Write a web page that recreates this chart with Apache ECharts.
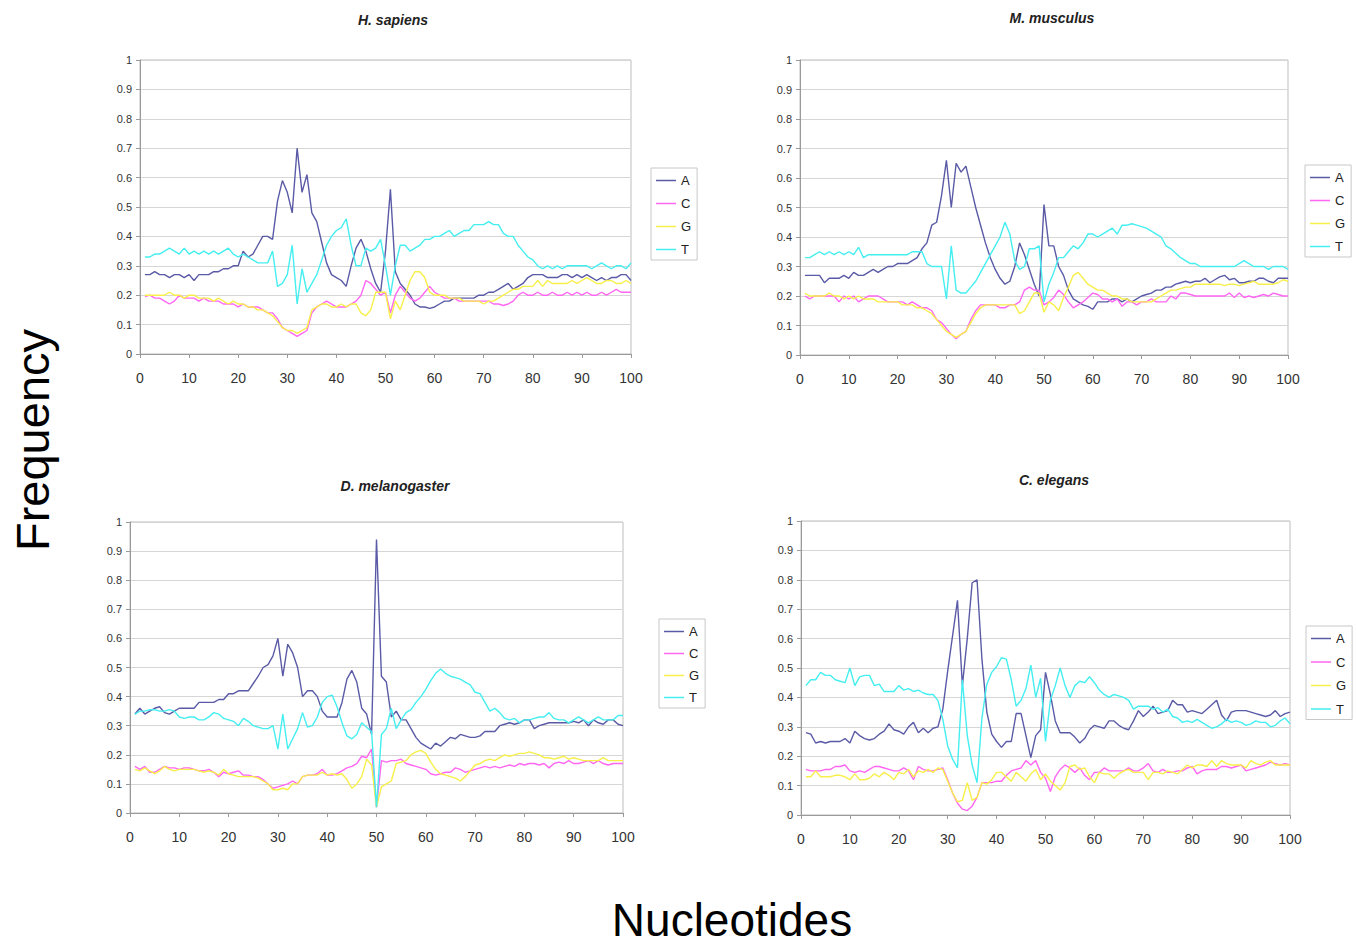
<!DOCTYPE html>
<html>
<head>
<meta charset="utf-8">
<script src="https://cdn.jsdelivr.net/npm/echarts@6/dist/echarts.min.js"></script>
<style>
html,body{margin:0;padding:0;background:#fff;}
#chart{width:1357px;height:947px;}
</style>
</head>
<body>
<div id="chart"></div>
<script>
// ---------- data ----------
const panelTitles = ['H. sapiens', 'M. musculus', 'D. melanogaster', 'C. elegans'];
const bases = ['A', 'C', 'G', 'T'];
const xTicks = [0, 10, 20, 30, 40, 50, 60, 70, 80, 90, 100];
const yTicks = [0, 0.1, 0.2, 0.3, 0.4, 0.5, 0.6, 0.7, 0.8, 0.9, 1];

// H. sapiens
const hsA = [0.27,0.27,0.28,0.27,0.27,0.26,0.27,0.27,0.26,0.27, 0.25,0.27,0.27,0.27,0.28,0.28,0.29,0.29,0.30,0.30,
  0.35,0.33,0.34,0.37,0.40,0.40,0.39,0.52,0.59,0.55, 0.48,0.70,0.55,0.61,0.48,0.45,0.38,0.31,0.27,0.26,
  0.25,0.23,0.30,0.36,0.39,0.35,0.29,0.24,0.21,0.35, 0.56,0.28,0.24,0.22,0.20,0.17,0.16,0.16,0.155,0.16,
  0.17,0.18,0.18,0.19,0.19,0.19,0.19,0.19,0.20,0.20, 0.21,0.21,0.22,0.23,0.24,0.22,0.23,0.24,0.26,0.27,
  0.27,0.27,0.26,0.26,0.26,0.27,0.27,0.26,0.27,0.26, 0.27,0.26,0.25,0.26,0.25,0.26,0.26,0.27,0.27,0.25];
const hsC = [0.195,0.20,0.19,0.19,0.18,0.17,0.18,0.20,0.19,0.19, 0.19,0.18,0.19,0.18,0.18,0.18,0.17,0.17,0.17,0.16,
  0.17,0.16,0.16,0.16,0.15,0.14,0.14,0.12,0.09,0.08, 0.07,0.06,0.07,0.08,0.14,0.16,0.17,0.18,0.17,0.16,
  0.16,0.16,0.17,0.18,0.20,0.25,0.24,0.22,0.20,0.21, 0.14,0.20,0.23,0.21,0.19,0.18,0.19,0.21,0.23,0.21,
  0.20,0.19,0.19,0.19,0.18,0.18,0.18,0.18,0.18,0.18, 0.18,0.17,0.17,0.165,0.17,0.18,0.20,0.21,0.20,0.20,
  0.21,0.20,0.20,0.21,0.20,0.20,0.21,0.20,0.21,0.20, 0.21,0.20,0.20,0.21,0.20,0.21,0.22,0.21,0.21,0.21];
const hsG = [0.20,0.20,0.20,0.20,0.20,0.21,0.20,0.20,0.19,0.20, 0.20,0.19,0.19,0.19,0.18,0.19,0.18,0.17,0.18,0.17,
  0.17,0.16,0.16,0.15,0.15,0.14,0.13,0.11,0.09,0.08, 0.08,0.07,0.08,0.09,0.15,0.16,0.17,0.17,0.16,0.16,
  0.17,0.16,0.17,0.17,0.14,0.13,0.15,0.21,0.21,0.21, 0.12,0.18,0.15,0.20,0.25,0.28,0.28,0.26,0.21,0.20,
  0.20,0.20,0.19,0.19,0.19,0.18,0.18,0.18,0.18,0.17, 0.18,0.18,0.19,0.20,0.21,0.22,0.22,0.23,0.23,0.23,
  0.25,0.23,0.25,0.24,0.24,0.24,0.24,0.25,0.24,0.25, 0.26,0.25,0.24,0.24,0.25,0.25,0.24,0.24,0.25,0.24];
const hsT = [0.33,0.33,0.34,0.34,0.35,0.36,0.35,0.34,0.36,0.34, 0.35,0.34,0.35,0.34,0.35,0.34,0.35,0.36,0.34,0.33,
  0.34,0.33,0.32,0.31,0.31,0.31,0.35,0.23,0.24,0.27, 0.37,0.17,0.29,0.21,0.24,0.27,0.32,0.37,0.40,0.42,
  0.43,0.46,0.37,0.30,0.30,0.36,0.35,0.36,0.39,0.30, 0.20,0.30,0.37,0.37,0.35,0.36,0.37,0.39,0.39,0.40,
  0.40,0.41,0.42,0.40,0.41,0.42,0.42,0.44,0.44,0.44, 0.45,0.44,0.44,0.41,0.40,0.40,0.37,0.35,0.33,0.32,
  0.30,0.29,0.30,0.29,0.30,0.29,0.30,0.30,0.30,0.30, 0.30,0.29,0.30,0.31,0.30,0.29,0.30,0.30,0.29,0.31];

// M. musculus
const mmA = [0.27,0.27,0.27,0.27,0.245,0.26,0.26,0.26,0.27,0.26, 0.28,0.27,0.27,0.28,0.29,0.28,0.29,0.30,0.30,0.31,
  0.31,0.31,0.32,0.33,0.36,0.38,0.44,0.45,0.54,0.66, 0.50,0.65,0.62,0.64,0.57,0.50,0.44,0.38,0.33,0.29,
  0.26,0.24,0.25,0.30,0.38,0.34,0.29,0.24,0.20,0.51, 0.37,0.37,0.30,0.27,0.22,0.19,0.18,0.17,0.165,0.155,
  0.18,0.18,0.18,0.19,0.19,0.18,0.19,0.18,0.19,0.20, 0.205,0.21,0.22,0.22,0.23,0.23,0.24,0.245,0.25,0.245,
  0.25,0.25,0.26,0.245,0.255,0.265,0.27,0.255,0.26,0.245, 0.245,0.25,0.25,0.26,0.26,0.25,0.245,0.26,0.26,0.26];
const mmC = [0.20,0.19,0.20,0.20,0.20,0.20,0.20,0.18,0.20,0.19, 0.20,0.18,0.19,0.20,0.20,0.20,0.19,0.18,0.18,0.18,
  0.18,0.17,0.18,0.17,0.16,0.16,0.15,0.12,0.11,0.09, 0.07,0.055,0.07,0.08,0.12,0.15,0.17,0.17,0.17,0.17,
  0.16,0.16,0.17,0.17,0.18,0.22,0.23,0.22,0.22,0.17, 0.18,0.195,0.22,0.205,0.18,0.16,0.17,0.18,0.195,0.21,
  0.205,0.19,0.19,0.18,0.19,0.165,0.18,0.18,0.17,0.18, 0.18,0.19,0.18,0.18,0.18,0.20,0.19,0.21,0.21,0.205,
  0.20,0.20,0.20,0.20,0.20,0.20,0.20,0.21,0.195,0.21, 0.195,0.20,0.195,0.20,0.205,0.20,0.21,0.205,0.20,0.20];
const mmG = [0.21,0.20,0.20,0.20,0.20,0.21,0.20,0.20,0.19,0.20, 0.19,0.20,0.19,0.19,0.19,0.18,0.18,0.18,0.18,0.18,
  0.17,0.17,0.17,0.16,0.16,0.15,0.14,0.12,0.10,0.08, 0.07,0.06,0.07,0.08,0.11,0.14,0.16,0.17,0.17,0.17,
  0.17,0.17,0.17,0.17,0.14,0.15,0.18,0.21,0.21,0.145, 0.18,0.17,0.15,0.195,0.23,0.27,0.28,0.26,0.24,0.23,
  0.22,0.22,0.21,0.20,0.20,0.19,0.19,0.18,0.18,0.18, 0.18,0.18,0.19,0.20,0.21,0.22,0.22,0.225,0.23,0.23,
  0.24,0.24,0.24,0.24,0.24,0.24,0.235,0.24,0.24,0.235, 0.24,0.245,0.25,0.24,0.24,0.24,0.24,0.245,0.255,0.25];
const mmT = [0.33,0.33,0.34,0.35,0.34,0.35,0.34,0.35,0.34,0.35, 0.34,0.365,0.33,0.34,0.34,0.34,0.34,0.34,0.34,0.34,
  0.34,0.34,0.35,0.35,0.35,0.31,0.30,0.30,0.30,0.19, 0.37,0.22,0.21,0.21,0.23,0.25,0.28,0.31,0.34,0.37,
  0.40,0.45,0.41,0.32,0.29,0.30,0.36,0.36,0.37,0.18, 0.24,0.28,0.33,0.33,0.35,0.37,0.36,0.38,0.41,0.41,
  0.40,0.41,0.42,0.43,0.41,0.44,0.44,0.445,0.44,0.435, 0.43,0.42,0.41,0.40,0.37,0.36,0.345,0.33,0.32,0.31,
  0.31,0.30,0.30,0.30,0.30,0.30,0.30,0.30,0.30,0.31, 0.32,0.31,0.30,0.30,0.30,0.29,0.30,0.30,0.30,0.29];

// D. melanogaster
const dmA = [0.34,0.36,0.34,0.35,0.36,0.365,0.345,0.34,0.35,0.36, 0.36,0.36,0.36,0.38,0.38,0.38,0.38,0.39,0.39,0.41,
  0.41,0.42,0.42,0.42,0.445,0.47,0.50,0.51,0.54,0.60, 0.47,0.58,0.55,0.50,0.40,0.42,0.42,0.40,0.35,0.33,
  0.33,0.33,0.38,0.46,0.49,0.45,0.36,0.34,0.27,0.94, 0.47,0.45,0.33,0.35,0.32,0.32,0.29,0.26,0.24,0.23,
  0.22,0.24,0.23,0.245,0.26,0.255,0.27,0.265,0.26,0.26, 0.265,0.28,0.28,0.28,0.30,0.305,0.31,0.305,0.31,0.32,
  0.32,0.29,0.30,0.305,0.31,0.31,0.31,0.31,0.31,0.315, 0.31,0.32,0.30,0.32,0.31,0.305,0.32,0.32,0.305,0.30];
const dmC = [0.16,0.15,0.16,0.14,0.14,0.15,0.16,0.155,0.155,0.15, 0.155,0.155,0.15,0.145,0.145,0.15,0.14,0.125,0.14,0.135,
  0.14,0.145,0.13,0.13,0.125,0.125,0.115,0.10,0.085,0.09, 0.095,0.10,0.11,0.10,0.125,0.13,0.13,0.135,0.15,0.13,
  0.13,0.135,0.145,0.155,0.16,0.17,0.195,0.19,0.22,0.02, 0.18,0.175,0.18,0.18,0.185,0.17,0.165,0.16,0.155,0.15,
  0.135,0.13,0.135,0.14,0.14,0.155,0.15,0.14,0.145,0.15, 0.155,0.16,0.155,0.16,0.155,0.16,0.165,0.16,0.17,0.165,
  0.17,0.17,0.165,0.17,0.155,0.17,0.175,0.17,0.18,0.17, 0.17,0.175,0.18,0.17,0.18,0.17,0.165,0.17,0.17,0.17];
const dmG = [0.15,0.145,0.155,0.145,0.135,0.145,0.16,0.15,0.145,0.15, 0.15,0.15,0.15,0.145,0.14,0.145,0.14,0.13,0.15,0.135,
  0.13,0.125,0.125,0.125,0.125,0.12,0.11,0.10,0.08,0.08, 0.085,0.08,0.10,0.10,0.125,0.13,0.13,0.13,0.14,0.13,
  0.135,0.13,0.135,0.115,0.085,0.10,0.125,0.185,0.165,0.02, 0.09,0.10,0.11,0.17,0.175,0.18,0.20,0.21,0.215,0.205,
  0.175,0.15,0.135,0.13,0.125,0.12,0.11,0.125,0.145,0.165, 0.17,0.18,0.185,0.18,0.19,0.20,0.195,0.20,0.205,0.205,
  0.21,0.205,0.20,0.19,0.19,0.185,0.19,0.195,0.185,0.19, 0.185,0.18,0.18,0.18,0.18,0.19,0.18,0.18,0.18,0.18];
const dmT = [0.34,0.35,0.35,0.355,0.355,0.35,0.35,0.355,0.35,0.33, 0.325,0.33,0.33,0.32,0.32,0.33,0.345,0.34,0.325,0.32,
  0.315,0.30,0.325,0.315,0.30,0.295,0.29,0.29,0.30,0.22, 0.34,0.22,0.255,0.29,0.345,0.295,0.30,0.33,0.38,0.40,
  0.405,0.365,0.31,0.265,0.255,0.27,0.31,0.295,0.28,0.02, 0.27,0.29,0.36,0.29,0.32,0.345,0.355,0.38,0.40,0.425,
  0.455,0.48,0.495,0.48,0.47,0.465,0.46,0.45,0.44,0.415, 0.41,0.38,0.35,0.36,0.345,0.325,0.32,0.325,0.31,0.32,
  0.32,0.325,0.33,0.33,0.345,0.325,0.32,0.32,0.31,0.32, 0.33,0.32,0.31,0.32,0.33,0.32,0.32,0.32,0.335,0.335];

// C. elegans
const ceA = [0.28,0.275,0.245,0.25,0.245,0.25,0.25,0.25,0.26,0.245, 0.285,0.27,0.26,0.255,0.26,0.275,0.285,0.31,0.29,0.285,
  0.275,0.30,0.315,0.28,0.295,0.28,0.295,0.30,0.36,0.49, 0.61,0.73,0.44,0.60,0.79,0.80,0.53,0.35,0.275,0.25,
  0.23,0.25,0.25,0.345,0.345,0.27,0.195,0.27,0.29,0.485, 0.41,0.32,0.28,0.28,0.28,0.265,0.245,0.26,0.29,0.305,
  0.30,0.295,0.32,0.32,0.305,0.295,0.29,0.32,0.355,0.335, 0.35,0.37,0.345,0.35,0.355,0.39,0.375,0.375,0.35,0.355,
  0.35,0.345,0.36,0.375,0.39,0.34,0.32,0.35,0.355,0.355, 0.355,0.35,0.345,0.34,0.335,0.34,0.355,0.335,0.345,0.35];
const ceC = [0.155,0.15,0.15,0.15,0.155,0.155,0.165,0.165,0.17,0.15, 0.145,0.15,0.145,0.155,0.165,0.165,0.16,0.155,0.15,0.15,
  0.16,0.15,0.12,0.165,0.155,0.15,0.15,0.155,0.16,0.12, 0.075,0.04,0.02,0.015,0.03,0.06,0.11,0.11,0.11,0.115,
  0.115,0.135,0.15,0.155,0.16,0.185,0.17,0.185,0.145,0.125, 0.08,0.13,0.155,0.17,0.16,0.145,0.16,0.135,0.12,0.145,
  0.145,0.16,0.15,0.15,0.15,0.15,0.16,0.15,0.15,0.16, 0.175,0.15,0.145,0.155,0.145,0.145,0.15,0.15,0.16,0.165,
  0.14,0.15,0.155,0.155,0.155,0.165,0.165,0.16,0.165,0.17, 0.15,0.155,0.16,0.165,0.17,0.18,0.175,0.17,0.175,0.17];
const ceG = [0.13,0.13,0.15,0.13,0.13,0.13,0.135,0.135,0.13,0.12, 0.14,0.12,0.12,0.125,0.14,0.13,0.145,0.135,0.12,0.145,
  0.14,0.155,0.13,0.15,0.145,0.155,0.145,0.16,0.155,0.115, 0.075,0.045,0.05,0.11,0.05,0.06,0.11,0.105,0.12,0.145,
  0.145,0.13,0.115,0.145,0.13,0.115,0.14,0.155,0.12,0.14, 0.115,0.10,0.085,0.11,0.165,0.17,0.155,0.16,0.13,0.11,
  0.145,0.14,0.14,0.125,0.14,0.15,0.155,0.145,0.145,0.145, 0.12,0.145,0.145,0.14,0.15,0.145,0.14,0.155,0.17,0.16,
  0.17,0.17,0.165,0.185,0.165,0.185,0.175,0.17,0.17,0.17, 0.16,0.185,0.175,0.17,0.18,0.185,0.17,0.17,0.17,0.17];
const ceT = [0.44,0.46,0.46,0.485,0.475,0.475,0.46,0.455,0.45,0.50, 0.44,0.47,0.475,0.475,0.44,0.445,0.42,0.42,0.42,0.44,
  0.425,0.43,0.42,0.425,0.415,0.41,0.41,0.39,0.325,0.235, 0.19,0.16,0.46,0.27,0.17,0.11,0.33,0.445,0.485,0.505,
  0.535,0.53,0.46,0.37,0.39,0.43,0.51,0.40,0.465,0.25, 0.39,0.44,0.50,0.44,0.40,0.44,0.455,0.45,0.47,0.45,
  0.425,0.41,0.40,0.41,0.405,0.40,0.39,0.36,0.37,0.37, 0.37,0.36,0.365,0.35,0.36,0.335,0.33,0.315,0.32,0.315,
  0.325,0.315,0.305,0.295,0.30,0.31,0.325,0.315,0.32,0.315, 0.305,0.31,0.32,0.315,0.315,0.30,0.305,0.32,0.33,0.31];

const panelData = [
  [hsA, hsC, hsG, hsT],
  [mmA, mmC, mmG, mmT],
  [dmA, dmC, dmG, dmT],
  [ceA, ceC, ceG, ceT]
];

// ---------- layout / style ----------
const colors = ['#5a5aa6', '#ff66f2', '#f7ef4a', '#45eef0'];
const grids = [
  {left: 140, top: 60, width: 491, height: 294},
  {left: 800, top: 60, width: 488, height: 295},
  {left: 130, top: 522, width: 493, height: 291},
  {left: 801, top: 521, width: 489, height: 294}
];
const titlePos = [[393, 20], [1052, 18], [395, 486], [1054, 480]];
const legendPos = [
  {left: 651, top: 168, itemGap: 10},
  {left: 1305, top: 165, itemGap: 10},
  {left: 659, top: 619, itemGap: 9},
  {left: 1306, top: 626, itemGap: 10.5}
];
const FONT = '"Liberation Sans", Arial, Helvetica, sans-serif';
const LINE_ICON = 'path://M0,0L20,0L20,1.5L0,1.5Z';

const option = {
  animation: false,
  backgroundColor: '#ffffff',
  grid: grids.map(g => Object.assign({show: true, borderColor: '#bdbdbd', borderWidth: 1, backgroundColor: 'transparent'}, g)),
  xAxis: grids.map((g, i) => ({
    type: 'value', gridIndex: i, min: xTicks[0], max: xTicks[xTicks.length - 1], interval: 10,
    axisLine: {show: true, onZero: false, lineStyle: {color: '#9a9a9a', width: 1}},
    axisTick: {show: true, length: 4, lineStyle: {color: '#9a9a9a'}},
    axisLabel: {fontSize: 14, color: '#333', margin: 17, fontFamily: FONT},
    splitLine: {show: false}
  })),
  yAxis: grids.map((g, i) => ({
    type: 'value', gridIndex: i, min: yTicks[0], max: yTicks[yTicks.length - 1], interval: 0.1,
    axisLine: {show: true, lineStyle: {color: '#9a9a9a', width: 1}},
    axisTick: {show: true, length: 4, lineStyle: {color: '#9a9a9a'}},
    axisLabel: {fontSize: 11, color: '#333', margin: 8, fontFamily: FONT,
      formatter: v => String(Math.round(v * 10) / 10)},
    splitLine: {show: true, lineStyle: {color: '#d6d6d6', width: 1}}
  })),
  legend: legendPos.map(p => ({
    orient: 'vertical', left: p.left, top: p.top, itemGap: p.itemGap,
    data: bases.map(b => ({name: b, icon: LINE_ICON})),
    itemWidth: 20, itemHeight: 12, symbolKeepAspect: true, selectedMode: false,
    padding: [6, 6, 4, 5], borderColor: '#c8c8c8', borderWidth: 1,
    textStyle: {fontSize: 13, color: '#222', fontFamily: FONT}
  })),
  series: [],
  graphic: []
};

panelData.forEach((arrs, gi) => {
  arrs.forEach((arr, bi) => {
    option.series.push({
      type: 'line', name: bases[bi], xAxisIndex: gi, yAxisIndex: gi,
      symbol: 'none', showSymbol: false,
      data: arr.map((v, k) => [k + 1, v]),
      lineStyle: {width: 1.4, color: colors[bi]},
      itemStyle: {color: colors[bi]},
      z: 2 + bi
    });
  });
  option.graphic.push({
    type: 'text', x: titlePos[gi][0], y: titlePos[gi][1],
    style: {text: panelTitles[gi], fontSize: 14, fontWeight: 'bold', fontStyle: 'italic', fontFamily: FONT,
      fill: '#222', align: 'center', verticalAlign: 'middle', textAlign: 'center', textVerticalAlign: 'middle'}
  });
});

option.graphic.push({
  type: 'text', x: 32, y: 440, rotation: Math.PI / 2,
  style: {text: 'Frequency', fontSize: 47, fontFamily: FONT, fill: '#000',
    align: 'center', verticalAlign: 'middle', textAlign: 'center', textVerticalAlign: 'middle'}
});
option.graphic.push({
  type: 'text', x: 732, y: 920,
  style: {text: 'Nucleotides', fontSize: 46, fontFamily: FONT, fill: '#000',
    align: 'center', verticalAlign: 'middle', textAlign: 'center', textVerticalAlign: 'middle'}
});

const chart = echarts.init(document.getElementById('chart'), null, {renderer: 'svg', width: 1357, height: 947});
chart.setOption(option);
</script>
</body>
</html>
